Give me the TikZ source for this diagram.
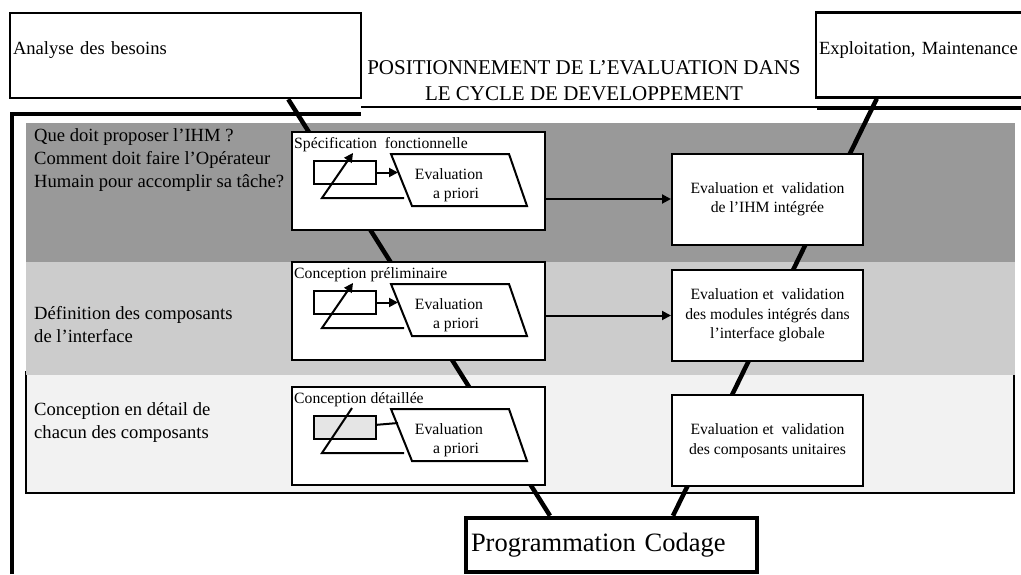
\documentclass[tikz,border=0pt]{standalone}
\usepackage{fontspec}
\setmainfont{Liberation Serif}
\usepackage{tikz}
\usetikzlibrary{shapes,arrows.meta,positioning,calc,backgrounds}

\newcommand{\labfont}{\fontsize{18.6}{23}\selectfont}
\newcommand{\boxfont}{\fontsize{15.7}{19.5}\selectfont}
\newcommand{\titfont}{\fontsize{21}{26}\selectfont}
\newcommand{\progfont}{\fontsize{26.5}{30}\selectfont}

\tikzset{
  stage/.style={draw, line width=2.5pt, fill=white, minimum height=85pt, inner sep=3pt, text depth=14pt, align=left, font=\labfont},
  phase/.style={draw, line width=2pt, fill=white, minimum width=253pt, minimum height=98pt},
  check/.style={draw, line width=2pt, fill=white, minimum width=191pt, minimum height=91pt, align=center, font=\boxfont},
  draft/.style={draw, line width=2pt, minimum width=62pt, minimum height=23pt, inner sep=0pt},
  para/.style={draw, line width=2pt, fill=white},
  flow/.style={line width=2pt, -{Triangle[length=9pt,width=9pt]}},
  vline/.style={line width=4.5pt},
  lab/.style={anchor=west, align=left, inner sep=0pt, font=\labfont},
  phasetitle/.style={anchor=north west, inner sep=3pt, yshift=-3pt, font=\boxfont}
}

\begin{document}
\begin{tikzpicture}[x=1pt, y=-1pt]
  \useasboundingbox (0,0) rectangle (1021,574);
  \clip (0,0) rectangle (1021,574);

  % ends of the cycle
  \node (analyse) [stage, minimum width=351pt, text width=345pt] at (185.5,55.5) {Analyse des besoins};
  \node (exploit) [stage, minimum width=214pt, text width=208pt] at (923,55) {Exploitation, Maintenance};
  \node (titre) [font=\titfont, align=center] at (584,81) {POSITIONNEMENT DE L’EVALUATION DANS\\LE CYCLE DE DEVELOPPEMENT};

  % questions on the left
  \node (q1) [lab] at (34,160) {Que doit proposer l’IHM ?\\Comment doit faire l’Opérateur\\Humain pour accomplir sa tâche?};
  \node (def) [lab] at (34,325) {Définition des composants\\de l’interface};
  \node (conc) [lab] at (34,423) {Conception en détail de\\chacun des composants};

  % descending phases
  \node (spec) [phase, label={[phasetitle]north west:Spécification\ \ fonctionnelle}] at (418.5,181) {};
  \node (prelim) [phase, below=30pt of spec, label={[phasetitle]north west:Conception préliminaire}] {};
  \node (detail) [phase, below=25pt of prelim, label={[phasetitle]north west:Conception détaillée}] {};

  % ascending phases
  \node (ihm) [check] at (767.5,199) {Evaluation et\ \ validation\\de l’IHM intégrée};
  \node (modules) [check, below=23.5pt of ihm] {Evaluation et\ \ validation\\des modules intégrés dans\\l’interface globale};
  \node (unit) [check, below=32pt of modules] {Evaluation et\ \ validation\\des composants unitaires};

  \node (prog) [draw, line width=4.5pt, fill=white, minimum width=291pt, minimum height=54pt, text width=281pt, inner sep=5pt, align=left, font=\progfont] at (611.5,545) {Programmation Codage};

  % evaluation sketches
  \begin{scope}[shift={(spec.north west)}]
    \node (s1) [draft] at (54,41.5) {};
    \draw[para] (100,23) -- (218,23) -- (236,75) -- (121,75) -- cycle;
    \node (s1ev) [font=\boxfont, align=center] at (158,54) {Evaluation\\\hspace*{14pt}a priori};
    \coordinate (s1in) at (107,41.5);
    \coordinate (s1out) at (113,67);
    \coordinate (s1back) at (31,67);
    \coordinate (s1up) at (62,22);
    \draw[flow] (s1) -- (s1in);
    \draw[flow] (s1out) -- (s1back) -- (s1up);
  \end{scope}

  \begin{scope}[shift={(prelim.north west)}]
    \node (s2) [draft] at (54,41.5) {};
    \draw[para] (100,23) -- (218,23) -- (236,75) -- (121,75) -- cycle;
    \node (s2ev) [font=\boxfont, align=center] at (158,54) {Evaluation\\\hspace*{14pt}a priori};
    \coordinate (s2in) at (107,41.5);
    \coordinate (s2out) at (113,67);
    \coordinate (s2back) at (31,67);
    \coordinate (s2up) at (62,22);
    \draw[flow] (s2) -- (s2in);
    \draw[flow] (s2out) -- (s2back) -- (s2up);
  \end{scope}

  \begin{scope}[shift={(detail.north west)}]
    \node (s3) [draft, fill=black!10] at (54,41.5) {};
    \draw[para] (100,23) -- (218,23) -- (236,75) -- (121,75) -- cycle;
    \node (s3ev) [font=\boxfont, align=center] at (158,54) {Evaluation\\\hspace*{14pt}a priori};
    \coordinate (s3in) at (107,37);
    \coordinate (s3out) at (113,67);
    \coordinate (s3back) at (31,67);
    \coordinate (s3up) at (61,22);
    \draw[line width=2pt] (s3) -- (s3in);
    \draw[line width=2pt] (s3out) -- (s3back) -- (s3up);
  \end{scope}

  \draw[flow] (spec.east |- ihm.west) -- (ihm.west);
  \draw[flow] (prelim.east |- modules.west) -- (modules.west);

  \begin{scope}[on background layer]
    % bands
    \draw[line width=2pt, fill=black!5] (26,372) rectangle (1014,493);
    \fill[black!20] (26,262) rectangle (1015,375);
    \fill[black!40] (26,123) rectangle (1015,262);
    % frame
    \draw[line width=4pt] (12,574) -- (12,114) -- (361,114);
    \draw[line width=1.5pt] (361,107) -- (817,107);
    \draw[line width=4pt] (817,108) -- (1021,108);
    % the V
    \draw[vline] ([xshift=-74pt]analyse.south east) -- ([xshift=-61.5pt]prog.north);
    \draw[vline] ([xshift=62pt]exploit.south west) -- ([xshift=61.5pt]prog.north);
  \end{scope}
\end{tikzpicture}
\end{document}
